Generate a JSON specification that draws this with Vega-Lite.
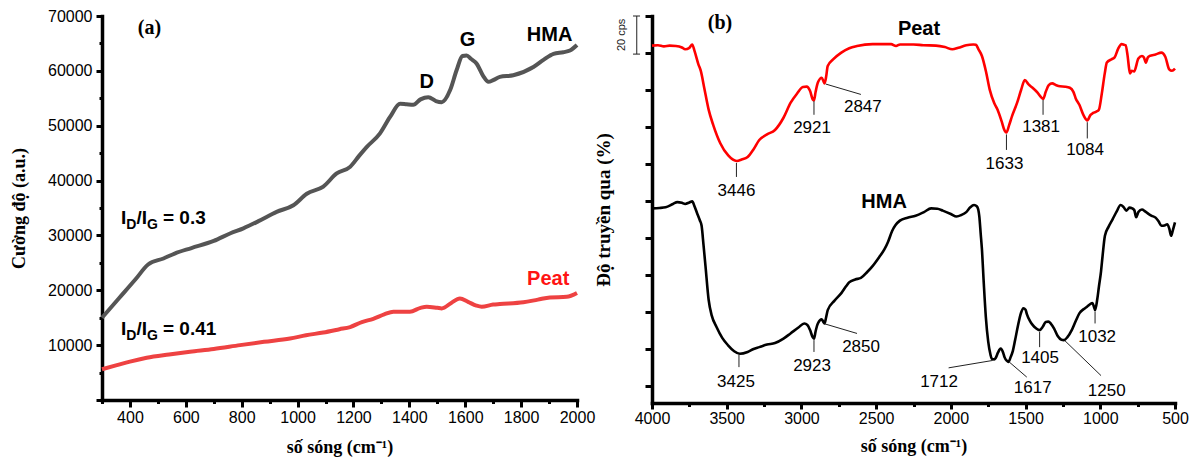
{
  "$schema": "https://vega.github.io/schema/vega-lite/v6.json",
  "background": "white",
  "padding": {"left": 10, "top": 8, "right": 5, "bottom": 5},
  "spacing": 75,
  "bounds": "flush",
  "resolve": {"scale": {"color": "independent"}},
  "config": {
    "view": {"stroke": null},
    "axis": {
      "grid": false,
      "domainColor": "black",
      "domainWidth": 3.5,
      "domainCap": "square",
      "tickColor": "black",
      "tickWidth": 3,
      "labelFont": "Liberation Sans",
      "labelFontSize": 16,
      "labelColor": "black",
      "labelOverlap": false,
      "labelFlush": false,
      "titleFont": "Liberation Serif",
      "titleFontWeight": "bold",
      "titleFontSize": 18,
      "titleColor": "black"
    }
  },
  "datasets": {
    "raman": [
      {"x": 300, "y": 15000, "s": "HMA"}, {"x": 360, "y": 18500, "s": "HMA"}, {"x": 420, "y": 22000, "s": "HMA"},
      {"x": 465, "y": 24700, "s": "HMA"}, {"x": 520, "y": 25800, "s": "HMA"}, {"x": 560, "y": 26700, "s": "HMA"},
      {"x": 620, "y": 27700, "s": "HMA"}, {"x": 700, "y": 29000, "s": "HMA"}, {"x": 760, "y": 30400, "s": "HMA"},
      {"x": 806, "y": 31300, "s": "HMA"}, {"x": 860, "y": 32600, "s": "HMA"}, {"x": 925, "y": 34300, "s": "HMA"},
      {"x": 985, "y": 35500, "s": "HMA"}, {"x": 1033, "y": 37600, "s": "HMA"}, {"x": 1092, "y": 38900, "s": "HMA"},
      {"x": 1140, "y": 41300, "s": "HMA"}, {"x": 1188, "y": 42500, "s": "HMA"}, {"x": 1220, "y": 44500, "s": "HMA"},
      {"x": 1247, "y": 46100, "s": "HMA"}, {"x": 1295, "y": 48600, "s": "HMA"}, {"x": 1331, "y": 51600, "s": "HMA"},
      {"x": 1367, "y": 54000, "s": "HMA"}, {"x": 1390, "y": 53900, "s": "HMA"}, {"x": 1414, "y": 53800, "s": "HMA"},
      {"x": 1440, "y": 54800, "s": "HMA"}, {"x": 1468, "y": 55200, "s": "HMA"}, {"x": 1495, "y": 54500, "s": "HMA"},
      {"x": 1516, "y": 54300, "s": "HMA"}, {"x": 1546, "y": 56500, "s": "HMA"}, {"x": 1569, "y": 60100, "s": "HMA"},
      {"x": 1590, "y": 62700, "s": "HMA"}, {"x": 1605, "y": 62800, "s": "HMA"}, {"x": 1620, "y": 62200, "s": "HMA"},
      {"x": 1641, "y": 61300, "s": "HMA"}, {"x": 1665, "y": 59000, "s": "HMA"}, {"x": 1683, "y": 58000, "s": "HMA"},
      {"x": 1700, "y": 58300, "s": "HMA"}, {"x": 1724, "y": 58900, "s": "HMA"}, {"x": 1772, "y": 59200, "s": "HMA"},
      {"x": 1844, "y": 60700, "s": "HMA"}, {"x": 1880, "y": 62000, "s": "HMA"}, {"x": 1916, "y": 63100, "s": "HMA"},
      {"x": 1951, "y": 63400, "s": "HMA"}, {"x": 1975, "y": 63700, "s": "HMA"}, {"x": 2000, "y": 64700, "s": "HMA"},
      {"x": 300, "y": 5600, "s": "Peat"}, {"x": 350, "y": 6300, "s": "Peat"}, {"x": 400, "y": 7000, "s": "Peat"},
      {"x": 460, "y": 7700, "s": "Peat"}, {"x": 540, "y": 8300, "s": "Peat"}, {"x": 615, "y": 8800, "s": "Peat"},
      {"x": 700, "y": 9300, "s": "Peat"}, {"x": 794, "y": 10000, "s": "Peat"}, {"x": 880, "y": 10600, "s": "Peat"},
      {"x": 973, "y": 11200, "s": "Peat"}, {"x": 1030, "y": 11800, "s": "Peat"}, {"x": 1092, "y": 12300, "s": "Peat"},
      {"x": 1150, "y": 12900, "s": "Peat"}, {"x": 1188, "y": 13300, "s": "Peat"}, {"x": 1230, "y": 14200, "s": "Peat"},
      {"x": 1271, "y": 14800, "s": "Peat"}, {"x": 1310, "y": 15600, "s": "Peat"}, {"x": 1343, "y": 16100, "s": "Peat"},
      {"x": 1402, "y": 16100, "s": "Peat"}, {"x": 1440, "y": 16800, "s": "Peat"}, {"x": 1462, "y": 17000, "s": "Peat"},
      {"x": 1500, "y": 16800, "s": "Peat"}, {"x": 1516, "y": 16700, "s": "Peat"}, {"x": 1550, "y": 17700, "s": "Peat"},
      {"x": 1581, "y": 18500, "s": "Peat"}, {"x": 1610, "y": 17900, "s": "Peat"}, {"x": 1640, "y": 17200, "s": "Peat"},
      {"x": 1659, "y": 17000, "s": "Peat"}, {"x": 1700, "y": 17400, "s": "Peat"}, {"x": 1724, "y": 17500, "s": "Peat"},
      {"x": 1808, "y": 17800, "s": "Peat"}, {"x": 1860, "y": 18300, "s": "Peat"}, {"x": 1903, "y": 18700, "s": "Peat"},
      {"x": 1963, "y": 18800, "s": "Peat"}, {"x": 2000, "y": 19500, "s": "Peat"}
    ],
    "namesA": [
      {"x": 1902, "y": 66580, "t": "HMA", "k": "name"},
      {"x": 1608, "y": 65570, "t": "G", "k": "name"},
      {"x": 1462, "y": 57980, "t": "D", "k": "name"},
      {"x": 1897, "y": 22130, "t": "Peat", "k": "red"}
    ],
    "panelA": [
      {"x": 470, "y": 67760, "t": "(a)"}
    ],
    "ratio": [
      {"x": 368, "y": 33240, "r": "= 0.3"},
      {"x": 368, "y": 12930, "r": "= 0.41"}
    ],
    "ftir": [
      {"x": 4000, "y": 92.0, "s": "Peat"}, {"x": 3960, "y": 92.1, "s": "Peat"}, {"x": 3920, "y": 91.8, "s": "Peat"},
      {"x": 3882, "y": 92.0, "s": "Peat"}, {"x": 3840, "y": 91.9, "s": "Peat"}, {"x": 3800, "y": 91.5, "s": "Peat"},
      {"x": 3778, "y": 91.0, "s": "Peat"}, {"x": 3750, "y": 91.4, "s": "Peat"}, {"x": 3731, "y": 92.3, "s": "Peat"},
      {"x": 3715, "y": 90.5, "s": "Peat"}, {"x": 3690, "y": 87.0, "s": "Peat"}, {"x": 3673, "y": 85.1, "s": "Peat"},
      {"x": 3650, "y": 80.5, "s": "Peat"}, {"x": 3621, "y": 74.7, "s": "Peat"}, {"x": 3590, "y": 70.5, "s": "Peat"},
      {"x": 3543, "y": 65.6, "s": "Peat"}, {"x": 3490, "y": 62.3, "s": "Peat"}, {"x": 3433, "y": 60.8, "s": "Peat"},
      {"x": 3400, "y": 61.2, "s": "Peat"}, {"x": 3360, "y": 61.9, "s": "Peat"}, {"x": 3320, "y": 64.0, "s": "Peat"},
      {"x": 3282, "y": 66.5, "s": "Peat"}, {"x": 3230, "y": 68.0, "s": "Peat"}, {"x": 3177, "y": 69.2, "s": "Peat"},
      {"x": 3120, "y": 72.5, "s": "Peat"}, {"x": 3073, "y": 76.5, "s": "Peat"}, {"x": 3030, "y": 79.0, "s": "Peat"},
      {"x": 2990, "y": 80.8, "s": "Peat"}, {"x": 2965, "y": 80.9, "s": "Peat"}, {"x": 2942, "y": 79.7, "s": "Peat"},
      {"x": 2925, "y": 77.5, "s": "Peat"}, {"x": 2916, "y": 77.2, "s": "Peat"}, {"x": 2905, "y": 79.5, "s": "Peat"},
      {"x": 2890, "y": 82.0, "s": "Peat"}, {"x": 2864, "y": 83.3, "s": "Peat"}, {"x": 2852, "y": 82.3, "s": "Peat"},
      {"x": 2845, "y": 81.8, "s": "Peat"}, {"x": 2835, "y": 83.5, "s": "Peat"}, {"x": 2824, "y": 86.5, "s": "Peat"},
      {"x": 2790, "y": 88.2, "s": "Peat"}, {"x": 2733, "y": 90.1, "s": "Peat"}, {"x": 2680, "y": 91.3, "s": "Peat"},
      {"x": 2628, "y": 91.9, "s": "Peat"}, {"x": 2524, "y": 92.4, "s": "Peat"}, {"x": 2400, "y": 92.4, "s": "Peat"},
      {"x": 2367, "y": 91.9, "s": "Peat"}, {"x": 2340, "y": 92.3, "s": "Peat"}, {"x": 2250, "y": 92.3, "s": "Peat"},
      {"x": 2184, "y": 92.1, "s": "Peat"}, {"x": 2100, "y": 92.0, "s": "Peat"}, {"x": 2040, "y": 91.6, "s": "Peat"},
      {"x": 1990, "y": 91.0, "s": "Peat"}, {"x": 1950, "y": 91.4, "s": "Peat"}, {"x": 1897, "y": 92.1, "s": "Peat"},
      {"x": 1850, "y": 92.3, "s": "Peat"}, {"x": 1832, "y": 92.2, "s": "Peat"}, {"x": 1815, "y": 91.0, "s": "Peat"},
      {"x": 1792, "y": 89.2, "s": "Peat"}, {"x": 1765, "y": 85.0, "s": "Peat"}, {"x": 1740, "y": 80.1, "s": "Peat"},
      {"x": 1710, "y": 76.5, "s": "Peat"}, {"x": 1688, "y": 74.7, "s": "Peat"}, {"x": 1660, "y": 71.5, "s": "Peat"},
      {"x": 1640, "y": 69.0, "s": "Peat"}, {"x": 1628, "y": 68.5, "s": "Peat"}, {"x": 1610, "y": 70.5, "s": "Peat"},
      {"x": 1590, "y": 73.0, "s": "Peat"}, {"x": 1557, "y": 76.5, "s": "Peat"}, {"x": 1530, "y": 80.0, "s": "Peat"},
      {"x": 1505, "y": 82.7, "s": "Peat"}, {"x": 1480, "y": 81.5, "s": "Peat"}, {"x": 1453, "y": 80.6, "s": "Peat"},
      {"x": 1420, "y": 79.3, "s": "Peat"}, {"x": 1395, "y": 78.0, "s": "Peat"}, {"x": 1382, "y": 77.6, "s": "Peat"},
      {"x": 1365, "y": 79.5, "s": "Peat"}, {"x": 1345, "y": 81.3, "s": "Peat"}, {"x": 1322, "y": 81.8, "s": "Peat"},
      {"x": 1295, "y": 81.3, "s": "Peat"}, {"x": 1270, "y": 81.0, "s": "Peat"}, {"x": 1235, "y": 80.9, "s": "Peat"},
      {"x": 1204, "y": 80.6, "s": "Peat"}, {"x": 1180, "y": 79.5, "s": "Peat"}, {"x": 1165, "y": 77.8, "s": "Peat"},
      {"x": 1140, "y": 76.0, "s": "Peat"}, {"x": 1110, "y": 73.0, "s": "Peat"}, {"x": 1087, "y": 71.8, "s": "Peat"},
      {"x": 1065, "y": 73.3, "s": "Peat"}, {"x": 1048, "y": 73.8, "s": "Peat"}, {"x": 1020, "y": 74.3, "s": "Peat"},
      {"x": 1009, "y": 74.7, "s": "Peat"}, {"x": 990, "y": 79.0, "s": "Peat"}, {"x": 970, "y": 84.5, "s": "Peat"},
      {"x": 956, "y": 87.4, "s": "Peat"}, {"x": 925, "y": 88.3, "s": "Peat"}, {"x": 904, "y": 88.8, "s": "Peat"},
      {"x": 880, "y": 91.2, "s": "Peat"}, {"x": 857, "y": 92.4, "s": "Peat"}, {"x": 840, "y": 92.2, "s": "Peat"},
      {"x": 831, "y": 92.1, "s": "Peat"}, {"x": 818, "y": 89.5, "s": "Peat"}, {"x": 806, "y": 85.5, "s": "Peat"},
      {"x": 800, "y": 84.5, "s": "Peat"}, {"x": 790, "y": 85.2, "s": "Peat"}, {"x": 774, "y": 85.0, "s": "Peat"},
      {"x": 745, "y": 88.5, "s": "Peat"}, {"x": 721, "y": 89.2, "s": "Peat"}, {"x": 708, "y": 88.8, "s": "Peat"},
      {"x": 695, "y": 87.4, "s": "Peat"}, {"x": 682, "y": 88.8, "s": "Peat"}, {"x": 669, "y": 89.2, "s": "Peat"},
      {"x": 630, "y": 89.6, "s": "Peat"}, {"x": 591, "y": 90.1, "s": "Peat"}, {"x": 565, "y": 89.0, "s": "Peat"},
      {"x": 539, "y": 85.6, "s": "Peat"}, {"x": 520, "y": 85.2, "s": "Peat"}, {"x": 500, "y": 85.8, "s": "Peat"},
      {"x": 4000, "y": 48.0, "s": "HMA"}, {"x": 3950, "y": 48.1, "s": "HMA"}, {"x": 3909, "y": 48.3, "s": "HMA"},
      {"x": 3860, "y": 49.2, "s": "HMA"}, {"x": 3830, "y": 49.7, "s": "HMA"}, {"x": 3800, "y": 49.5, "s": "HMA"},
      {"x": 3778, "y": 49.2, "s": "HMA"}, {"x": 3750, "y": 49.6, "s": "HMA"}, {"x": 3731, "y": 49.9, "s": "HMA"},
      {"x": 3715, "y": 48.5, "s": "HMA"}, {"x": 3700, "y": 46.9, "s": "HMA"}, {"x": 3680, "y": 44.8, "s": "HMA"},
      {"x": 3668, "y": 43.3, "s": "HMA"}, {"x": 3655, "y": 38.0, "s": "HMA"}, {"x": 3642, "y": 32.4, "s": "HMA"},
      {"x": 3621, "y": 23.3, "s": "HMA"}, {"x": 3600, "y": 19.0, "s": "HMA"}, {"x": 3569, "y": 16.0, "s": "HMA"},
      {"x": 3530, "y": 13.0, "s": "HMA"}, {"x": 3491, "y": 11.0, "s": "HMA"}, {"x": 3450, "y": 9.4, "s": "HMA"},
      {"x": 3412, "y": 8.7, "s": "HMA"}, {"x": 3360, "y": 9.2, "s": "HMA"}, {"x": 3320, "y": 10.0, "s": "HMA"},
      {"x": 3282, "y": 10.5, "s": "HMA"}, {"x": 3230, "y": 11.2, "s": "HMA"}, {"x": 3177, "y": 11.6, "s": "HMA"},
      {"x": 3120, "y": 12.8, "s": "HMA"}, {"x": 3073, "y": 14.2, "s": "HMA"}, {"x": 3020, "y": 15.8, "s": "HMA"},
      {"x": 2981, "y": 16.9, "s": "HMA"}, {"x": 2960, "y": 16.5, "s": "HMA"}, {"x": 2942, "y": 15.1, "s": "HMA"},
      {"x": 2925, "y": 13.2, "s": "HMA"}, {"x": 2916, "y": 12.8, "s": "HMA"}, {"x": 2905, "y": 14.8, "s": "HMA"},
      {"x": 2890, "y": 16.9, "s": "HMA"}, {"x": 2864, "y": 18.0, "s": "HMA"}, {"x": 2850, "y": 17.1, "s": "HMA"},
      {"x": 2845, "y": 16.9, "s": "HMA"}, {"x": 2835, "y": 18.5, "s": "HMA"}, {"x": 2824, "y": 20.5, "s": "HMA"},
      {"x": 2780, "y": 23.0, "s": "HMA"}, {"x": 2733, "y": 25.1, "s": "HMA"}, {"x": 2700, "y": 27.0, "s": "HMA"},
      {"x": 2681, "y": 28.0, "s": "HMA"}, {"x": 2640, "y": 28.8, "s": "HMA"}, {"x": 2602, "y": 29.2, "s": "HMA"},
      {"x": 2560, "y": 30.8, "s": "HMA"}, {"x": 2524, "y": 32.4, "s": "HMA"}, {"x": 2480, "y": 34.8, "s": "HMA"},
      {"x": 2445, "y": 36.9, "s": "HMA"}, {"x": 2420, "y": 39.0, "s": "HMA"}, {"x": 2393, "y": 41.9, "s": "HMA"},
      {"x": 2370, "y": 43.5, "s": "HMA"}, {"x": 2341, "y": 44.7, "s": "HMA"}, {"x": 2290, "y": 45.5, "s": "HMA"},
      {"x": 2236, "y": 46.0, "s": "HMA"}, {"x": 2180, "y": 47.0, "s": "HMA"}, {"x": 2132, "y": 48.0, "s": "HMA"},
      {"x": 2090, "y": 47.9, "s": "HMA"}, {"x": 2054, "y": 47.4, "s": "HMA"}, {"x": 2000, "y": 46.5, "s": "HMA"},
      {"x": 1962, "y": 45.8, "s": "HMA"}, {"x": 1930, "y": 46.2, "s": "HMA"}, {"x": 1897, "y": 47.0, "s": "HMA"},
      {"x": 1870, "y": 48.3, "s": "HMA"}, {"x": 1845, "y": 48.9, "s": "HMA"}, {"x": 1825, "y": 48.5, "s": "HMA"},
      {"x": 1810, "y": 46.0, "s": "HMA"}, {"x": 1800, "y": 41.0, "s": "HMA"}, {"x": 1792, "y": 36.9, "s": "HMA"},
      {"x": 1780, "y": 28.0, "s": "HMA"}, {"x": 1766, "y": 18.7, "s": "HMA"}, {"x": 1750, "y": 12.0, "s": "HMA"},
      {"x": 1735, "y": 8.5, "s": "HMA"}, {"x": 1727, "y": 7.4, "s": "HMA"}, {"x": 1710, "y": 7.2, "s": "HMA"},
      {"x": 1701, "y": 7.5, "s": "HMA"}, {"x": 1685, "y": 9.0, "s": "HMA"}, {"x": 1667, "y": 10.1, "s": "HMA"},
      {"x": 1650, "y": 9.0, "s": "HMA"}, {"x": 1641, "y": 7.8, "s": "HMA"}, {"x": 1625, "y": 6.8, "s": "HMA"},
      {"x": 1615, "y": 6.5, "s": "HMA"}, {"x": 1600, "y": 7.8, "s": "HMA"}, {"x": 1585, "y": 9.5, "s": "HMA"},
      {"x": 1570, "y": 12.4, "s": "HMA"}, {"x": 1550, "y": 16.5, "s": "HMA"}, {"x": 1531, "y": 19.7, "s": "HMA"},
      {"x": 1515, "y": 21.0, "s": "HMA"}, {"x": 1500, "y": 20.6, "s": "HMA"}, {"x": 1492, "y": 19.5, "s": "HMA"},
      {"x": 1470, "y": 17.5, "s": "HMA"}, {"x": 1453, "y": 16.5, "s": "HMA"}, {"x": 1430, "y": 15.6, "s": "HMA"},
      {"x": 1406, "y": 15.1, "s": "HMA"}, {"x": 1385, "y": 16.0, "s": "HMA"}, {"x": 1365, "y": 17.3, "s": "HMA"},
      {"x": 1348, "y": 17.4, "s": "HMA"}, {"x": 1330, "y": 16.8, "s": "HMA"}, {"x": 1309, "y": 15.5, "s": "HMA"},
      {"x": 1285, "y": 13.5, "s": "HMA"}, {"x": 1260, "y": 12.5, "s": "HMA"}, {"x": 1244, "y": 12.4, "s": "HMA"},
      {"x": 1220, "y": 13.2, "s": "HMA"}, {"x": 1191, "y": 15.1, "s": "HMA"}, {"x": 1165, "y": 17.5, "s": "HMA"},
      {"x": 1139, "y": 19.7, "s": "HMA"}, {"x": 1110, "y": 20.8, "s": "HMA"}, {"x": 1087, "y": 21.5, "s": "HMA"},
      {"x": 1065, "y": 22.2, "s": "HMA"}, {"x": 1053, "y": 22.4, "s": "HMA"}, {"x": 1043, "y": 21.5, "s": "HMA"},
      {"x": 1035, "y": 20.5, "s": "HMA"}, {"x": 1020, "y": 23.5, "s": "HMA"}, {"x": 1009, "y": 26.9, "s": "HMA"},
      {"x": 995, "y": 31.0, "s": "HMA"}, {"x": 985, "y": 35.0, "s": "HMA"}, {"x": 969, "y": 40.6, "s": "HMA"},
      {"x": 945, "y": 43.0, "s": "HMA"}, {"x": 917, "y": 45.1, "s": "HMA"}, {"x": 890, "y": 47.2, "s": "HMA"},
      {"x": 864, "y": 48.9, "s": "HMA"}, {"x": 845, "y": 48.4, "s": "HMA"}, {"x": 825, "y": 47.4, "s": "HMA"},
      {"x": 805, "y": 48.2, "s": "HMA"}, {"x": 786, "y": 48.0, "s": "HMA"}, {"x": 772, "y": 47.5, "s": "HMA"},
      {"x": 760, "y": 45.6, "s": "HMA"}, {"x": 745, "y": 47.0, "s": "HMA"}, {"x": 721, "y": 47.7, "s": "HMA"},
      {"x": 700, "y": 47.2, "s": "HMA"}, {"x": 680, "y": 46.6, "s": "HMA"}, {"x": 656, "y": 46.0, "s": "HMA"},
      {"x": 630, "y": 45.5, "s": "HMA"}, {"x": 610, "y": 44.5, "s": "HMA"}, {"x": 591, "y": 43.3, "s": "HMA"},
      {"x": 570, "y": 43.4, "s": "HMA"}, {"x": 552, "y": 43.7, "s": "HMA"}, {"x": 538, "y": 42.5, "s": "HMA"},
      {"x": 526, "y": 40.6, "s": "HMA"}, {"x": 515, "y": 42.0, "s": "HMA"}, {"x": 500, "y": 44.2, "s": "HMA"}
    ],
    "leaders": [
      {"x": 3435, "y": 60.3, "x2": 3435, "y2": 56.5},
      {"x": 2916, "y": 77.0, "x2": 2916, "y2": 73.3},
      {"x": 2837, "y": 81.6, "x2": 2602, "y2": 78.8},
      {"x": 1628, "y": 68.0, "x2": 1628, "y2": 63.8},
      {"x": 1383, "y": 77.3, "x2": 1383, "y2": 73.3},
      {"x": 1087, "y": 71.3, "x2": 1087, "y2": 66.9},
      {"x": 3418, "y": 8.5, "x2": 3418, "y2": 5.1},
      {"x": 2916, "y": 12.4, "x2": 2916, "y2": 9.2},
      {"x": 2845, "y": 16.8, "x2": 2628, "y2": 14.2},
      {"x": 1720, "y": 6.9, "x2": 2015, "y2": 4.9},
      {"x": 1610, "y": 6.5, "x2": 1492, "y2": 2.4},
      {"x": 1406, "y": 14.6, "x2": 1406, "y2": 10.5},
      {"x": 1236, "y": 12.2, "x2": 995, "y2": 2.8},
      {"x": 1035, "y": 20.1, "x2": 1035, "y2": 16.9},
      {"x": 4102, "y": 100, "x2": 4102, "y2": 89.7},
      {"x": 4127, "y": 100, "x2": 4080, "y2": 100},
      {"x": 4127, "y": 89.7, "x2": 4080, "y2": 89.7}
    ],
    "peaks": [
      {"x": 3435, "y": 52.8, "t": "3446"},
      {"x": 2929, "y": 69.7, "t": "2921"},
      {"x": 2589, "y": 75.4, "t": "2847"},
      {"x": 1641, "y": 60.1, "t": "1633"},
      {"x": 1396, "y": 70.1, "t": "1381"},
      {"x": 1102, "y": 63.8, "t": "1084"},
      {"x": 3438, "y": 1.0, "t": "3425"},
      {"x": 2929, "y": 5.3, "t": "2923"},
      {"x": 2601, "y": 10.5, "t": "2850"},
      {"x": 2079, "y": 1.0, "t": "1712"},
      {"x": 1452, "y": -0.5, "t": "1617"},
      {"x": 1403, "y": 7.6, "t": "1405"},
      {"x": 957, "y": -1.3, "t": "1250"},
      {"x": 1021, "y": 13.3, "t": "1032"}
    ],
    "namesB": [
      {"x": 2213, "y": 96.5, "t": "Peat"},
      {"x": 2447, "y": 49.7, "t": "HMA"}
    ],
    "panelB": [
      {"x": 3545, "y": 98.1, "t": "(b)"}
    ],
    "scalebar": [
      {"x": 4203, "y": 94.9, "t": "20 cps"}
    ]
  },
  "hconcat": [
    {
      "width": 475,
      "height": 384,
      "layer": [
        {
          "data": {"name": "raman"},
          "mark": {"type": "line", "strokeWidth": 4, "interpolate": "monotone"},
          "encoding": {
            "x": {
              "field": "x", "type": "quantitative",
              "scale": {"domain": [300, 2000], "nice": false, "zero": false},
              "axis": {
                "values": [300, 400, 500, 600, 700, 800, 900, 1000, 1100, 1200, 1300, 1400, 1500, 1600, 1700, 1800, 1900, 2000],
                "tickCount": 100,
                "format": "d",
                "labelOverlap": false,
                "labelFlush": false,
                "labelExpr": "datum.value % 200 == 0 ? datum.label : ''",
                "tickSize": {"condition": {"test": "datum.value % 200 == 0", "value": 7}, "value": 3.5},
                "labelPadding": 2,
                "title": "số sóng (cm⁻¹)",
                "titlePadding": 13
              }
            },
            "y": {
              "field": "y", "type": "quantitative",
              "scale": {"domain": [0, 70000], "nice": false},
              "axis": {
                "values": [0, 5000, 10000, 15000, 20000, 25000, 30000, 35000, 40000, 45000, 50000, 55000, 60000, 65000, 70000],
                "tickCount": 100,
                "format": "d",
                "labelOverlap": false,
                "labelFlush": false,
                "labelExpr": "datum.value % 10000 == 0 && datum.value > 0 ? datum.label : ''",
                "tickSize": {"condition": {"test": "datum.value % 10000 == 0", "value": 6}, "value": 3},
                "labelPadding": 4,
                "title": "Cường độ (a.u.)",
                "titlePadding": 19
              }
            },
            "color": {
              "field": "s", "type": "nominal",
              "scale": {"domain": ["HMA", "Peat"], "range": ["#555555", "#ee4242"]},
              "legend": null
            }
          }
        },
        {
          "data": {"name": "namesA"},
          "mark": {"type": "text", "font": "Liberation Sans", "fontWeight": "bold", "fontSize": 20, "baseline": "middle", "align": "center"},
          "encoding": {
            "x": {"field": "x", "type": "quantitative"},
            "y": {"field": "y", "type": "quantitative"},
            "text": {"field": "t"},
            "color": {"condition": {"test": "datum.k == 'red'", "value": "#ff1414"}, "value": "black"}
          }
        },
        {
          "data": {"name": "panelA"},
          "mark": {"type": "text", "font": "Liberation Serif", "fontWeight": "bold", "fontSize": 20, "baseline": "middle", "align": "center", "color": "black"},
          "encoding": {
            "x": {"field": "x", "type": "quantitative"},
            "y": {"field": "y", "type": "quantitative"},
            "text": {"field": "t"}
          }
        },
        {
          "data": {"name": "ratio"},
          "mark": {"type": "text", "font": "Liberation Sans", "fontWeight": "bold", "fontSize": 19, "baseline": "middle", "align": "left", "dx": 0},
          "encoding": {
            "x": {"field": "x", "type": "quantitative"},
            "y": {"field": "y", "type": "quantitative"},
            "text": {"value": "I"}
          }
        },
        {
          "data": {"name": "ratio"},
          "mark": {"type": "text", "font": "Liberation Sans", "fontWeight": "bold", "fontSize": 14, "baseline": "middle", "align": "left", "dx": 5.3, "dy": 7},
          "encoding": {
            "x": {"field": "x", "type": "quantitative"},
            "y": {"field": "y", "type": "quantitative"},
            "text": {"value": "D"}
          }
        },
        {
          "data": {"name": "ratio"},
          "mark": {"type": "text", "font": "Liberation Sans", "fontWeight": "bold", "fontSize": 19, "baseline": "middle", "align": "left", "dx": 15.4},
          "encoding": {
            "x": {"field": "x", "type": "quantitative"},
            "y": {"field": "y", "type": "quantitative"},
            "text": {"value": "/I"}
          }
        },
        {
          "data": {"name": "ratio"},
          "mark": {"type": "text", "font": "Liberation Sans", "fontWeight": "bold", "fontSize": 14, "baseline": "middle", "align": "left", "dx": 26, "dy": 7},
          "encoding": {
            "x": {"field": "x", "type": "quantitative"},
            "y": {"field": "y", "type": "quantitative"},
            "text": {"value": "G"}
          }
        },
        {
          "data": {"name": "ratio"},
          "mark": {"type": "text", "font": "Liberation Sans", "fontWeight": "bold", "fontSize": 19, "baseline": "middle", "align": "left", "dx": 42},
          "encoding": {
            "x": {"field": "x", "type": "quantitative"},
            "y": {"field": "y", "type": "quantitative"},
            "text": {"field": "r"}
          }
        }
      ]
    },
    {
      "width": 523,
      "height": 387,
      "layer": [
        {
          "data": {"name": "ftir"},
          "mark": {"type": "line", "strokeWidth": 2.6, "interpolate": "monotone"},
          "encoding": {
            "x": {
              "field": "x", "type": "quantitative",
              "scale": {"domain": [4000, 500], "nice": false, "zero": false},
              "axis": {
                "values": [500, 750, 1000, 1250, 1500, 1750, 2000, 2250, 2500, 2750, 3000, 3250, 3500, 3750, 4000],
                "tickCount": 100,
                "format": "d",
                "labelOverlap": false,
                "labelFlush": false,
                "labelExpr": "datum.value % 500 == 0 ? datum.label : ''",
                "tickSize": {"condition": {"test": "datum.value % 500 == 0", "value": 6}, "value": 3.5},
                "labelPadding": 1,
                "title": "số sóng (cm⁻¹)",
                "titlePadding": 11
              }
            },
            "y": {
              "field": "y", "type": "quantitative",
              "scale": {"domain": [-4.6, 100], "nice": false, "zero": false},
              "axis": {
                "values": [0, 10, 20, 30, 40, 50, 60, 70, 80, 90, 100],
                "tickCount": 100,
                "labels": false,
                "tickSize": 7,
                "title": "Độ truyền qua (%)",
                "titleFontSize": 19,
                "titlePadding": 30
              }
            },
            "color": {
              "field": "s", "type": "nominal",
              "scale": {"domain": ["HMA", "Peat"], "range": ["#000000", "#ff0000"]},
              "legend": null
            }
          }
        },
        {
          "data": {"name": "leaders"},
          "mark": {"type": "rule", "color": "#222222", "strokeWidth": 1},
          "encoding": {
            "x": {"field": "x", "type": "quantitative"},
            "y": {"field": "y", "type": "quantitative"},
            "x2": {"field": "x2"},
            "y2": {"field": "y2"}
          }
        },
        {
          "data": {"name": "peaks"},
          "mark": {"type": "text", "font": "Liberation Sans", "fontSize": 17, "baseline": "middle", "align": "center", "color": "black"},
          "encoding": {
            "x": {"field": "x", "type": "quantitative"},
            "y": {"field": "y", "type": "quantitative"},
            "text": {"field": "t"}
          }
        },
        {
          "data": {"name": "namesB"},
          "mark": {"type": "text", "font": "Liberation Sans", "fontWeight": "bold", "fontSize": 20, "baseline": "middle", "align": "center", "color": "black"},
          "encoding": {
            "x": {"field": "x", "type": "quantitative"},
            "y": {"field": "y", "type": "quantitative"},
            "text": {"field": "t"}
          }
        },
        {
          "data": {"name": "panelB"},
          "mark": {"type": "text", "font": "Liberation Serif", "fontWeight": "bold", "fontSize": 20, "baseline": "middle", "align": "center", "color": "black"},
          "encoding": {
            "x": {"field": "x", "type": "quantitative"},
            "y": {"field": "y", "type": "quantitative"},
            "text": {"field": "t"}
          }
        },
        {
          "data": {"name": "scalebar"},
          "mark": {"type": "text", "font": "Liberation Sans", "fontSize": 11, "angle": 270, "baseline": "middle", "align": "center", "color": "#222222"},
          "encoding": {
            "x": {"field": "x", "type": "quantitative"},
            "y": {"field": "y", "type": "quantitative"},
            "text": {"field": "t"}
          }
        }
      ]
    }
  ]
}
